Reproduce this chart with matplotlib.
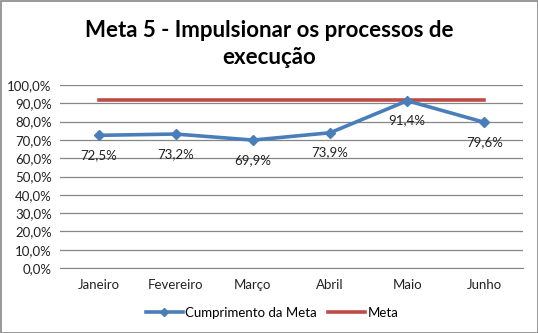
import matplotlib
matplotlib.use("Agg")
import matplotlib.pyplot as plt
from matplotlib.patches import Rectangle
from matplotlib.ticker import FuncFormatter

months = ["Janeiro", "Fevereiro", "Março", "Abril", "Maio", "Junho"]
cumprimento = [72.5, 73.2, 69.9, 73.9, 91.4, 79.6]
meta = [92.0, 92.0, 92.0, 92.0, 92.0, 92.0]
title = "Meta 5 - Impulsionar os processos de\nexecução"

plt.rcParams["font.family"] = ["Lato", "DejaVu Sans"]

W, H = 538, 333
fig = plt.figure(figsize=(W / 100, H / 100), dpi=100)
fig.patch.set_facecolor("white")
fig.add_artist(Rectangle((0.5 / W, 0.5 / H), 1 - 1 / W, 1 - 1 / H, transform=fig.transFigure,
                         fill=False, edgecolor="#888888", linewidth=1.2))

left, right, top, bottom = 60, 523, 85, 268
ax = fig.add_axes([left / W, 1 - bottom / H, (right - left) / W, (bottom - top) / H])

x = list(range(len(months)))
ax.plot(x, meta, color="#BE4B48", linewidth=2.6, label="Meta", zorder=3)
ax.plot(x, cumprimento, color="#4A7EBB", linewidth=2.6, marker="D", markersize=5,
        label="Cumprimento da Meta", zorder=4)

for xi, v in zip(x, cumprimento):
    ax.annotate(f"{v:.1f}%".replace(".", ","), (xi, v), xytext=(0, -10), textcoords="offset points",
                ha="center", va="top", fontsize=9.5, color="#222222")

ax.set_xlim(-0.5, len(months) - 0.5)
ax.set_ylim(0, 100)
ax.set_yticks(range(0, 101, 10))
ax.yaxis.set_major_formatter(FuncFormatter(lambda v, _: f"{v:.1f}%".replace(".", ",")))
ax.set_xticks(x)
ax.set_xticklabels(months)
ax.grid(axis="y", color="#868686", linewidth=0.9)
ax.set_axisbelow(True)
for s in ["top", "right", "left"]:
    ax.spines[s].set_visible(False)
ax.spines["bottom"].set_color("#868686")
ax.tick_params(axis="y", length=0, labelsize=9.5, pad=6, colors="#222222")
ax.tick_params(axis="x", length=0, labelsize=9.5, pad=8, colors="#222222")

fig.text(0.5, 1 - 44 / H, title, ha="center", va="center", fontsize=16,
         fontweight="bold", linespacing=1.4)

handles, labels = ax.get_legend_handles_labels()
fig.legend(handles[::-1], labels[::-1], loc="center", bbox_to_anchor=(272 / W, 1 - 313 / H),
           ncol=2, frameon=False, fontsize=9.5, handlelength=2.8, handletextpad=0.2,
           columnspacing=0.8, markerscale=0.9)

fig.savefig("out.png", dpi=100)
